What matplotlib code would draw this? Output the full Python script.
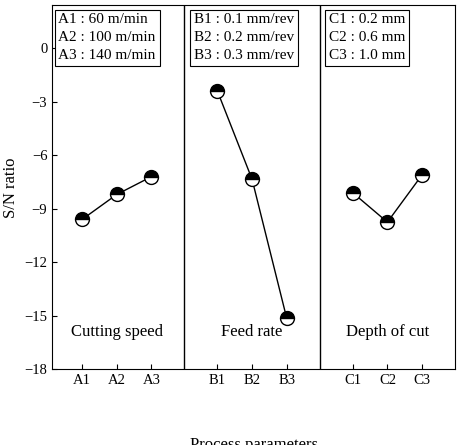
import matplotlib
matplotlib.use("Agg")
import matplotlib.pyplot as plt

plt.rcParams['font.family'] = ['Liberation Serif', 'DejaVu Serif']

labels = ['A1', 'A2', 'A3', 'B1', 'B2', 'B3', 'C1', 'C2', 'C3']
speed = [-9.6, -8.2, -7.2]
feed = [-2.4, -7.35, -15.15]
depth = [-8.1, -9.75, -7.1]
groups = [speed, feed, depth]
group_names = ['Cutting speed', 'Feed rate', 'Depth of cut']
boxes = ["A1 : 60 m/min\nA2 : 100 m/min\nA3 : 140 m/min",
         "B1 : 0.1 mm/rev\nB2 : 0.2 mm/rev\nB3 : 0.3 mm/rev",
         "C1 : 0.2 mm\nC2 : 0.6 mm\nC3 : 1.0 mm"]

fig = plt.figure(figsize=(4.62, 4.45), dpi=100)
ax = fig.add_axes([0.113, 0.17, 0.872, 0.818])
offs = [0, 3.9, 7.8]
xs_all = []
for g, o, name, bt in zip(groups, offs, group_names, boxes):
    xs = [o + i for i in range(3)]
    xs_all += xs
    ax.plot(xs, g, '-', color='black', lw=1, marker='o', ms=10,
            fillstyle='top', markerfacecolor='black', markerfacecoloralt='white',
            markeredgecolor='black', markeredgewidth=1)
    ax.text(o + 1, -15.9, name, ha='center', va='center', fontsize=12)
    ax.text(o - 0.68, 1.95, bt, ha='left', va='top', fontsize=11, linespacing=1.5,
            bbox=dict(boxstyle='square,pad=0.25', fc='white', ec='black', lw=0.8))
for d in [2.95, 6.85]:
    ax.axvline(d, color='black', lw=1)
ax.set_xlim(-0.86, 10.75)
ax.set_ylim(-18, 2.4)
ax.set_yticks([0, -3, -6, -9, -12, -15, -18])
ax.set_xticks(xs_all)
ax.set_xticklabels(labels)
ax.tick_params(direction='in', labelsize=10.5)
ax.set_ylabel('S/N ratio', fontsize=12)
ax.set_xlabel('Process parameters', fontsize=12, labelpad=36)
fig.savefig('out.png', dpi=100)
